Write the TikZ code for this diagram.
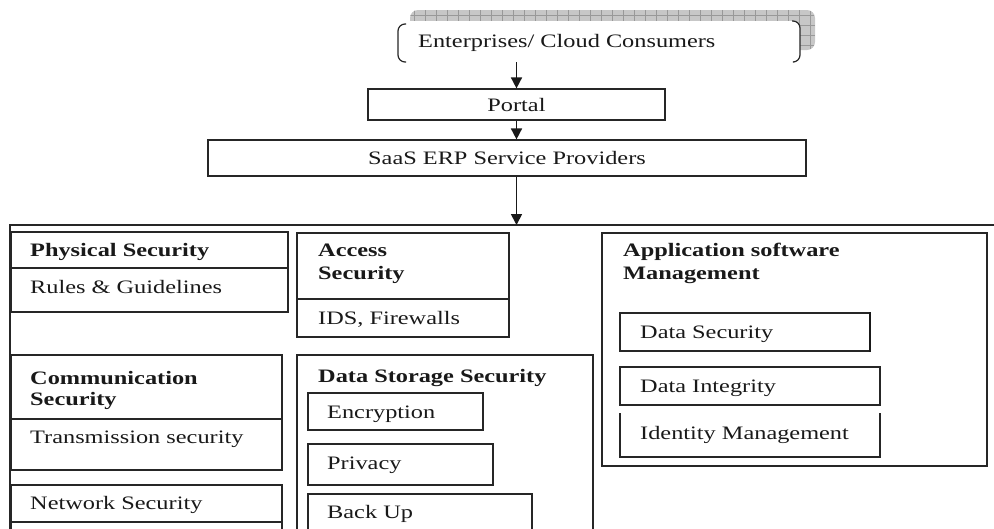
\documentclass[tikz,border=0pt]{standalone}
\usepackage{fontspec}
\setmainfont{Liberation Serif}[FakeStretch=1.28]
\usetikzlibrary{arrows.meta}
\tikzset{
  ln/.style={line width=1.2pt, draw=black!85},
  txt/.style={inner sep=0pt, anchor=base west, text=black!90, font=\fontsize{19}{23}\selectfont},
  btxt/.style={txt, font=\fontsize{19}{23}\selectfont\bfseries},
  ctr/.style={inner sep=0pt, text=black!90, font=\fontsize{19}{23}\selectfont},
  arr/.style={line width=1.7pt, draw=black!90, -{Triangle[length=11pt,width=11pt]}},
}
\begin{document}
\begin{tikzpicture}[x=1pt,y=-1pt]
\useasboundingbox (0,0) rectangle (994,528);
\clip (0,0) rectangle (994,528);

% top shadow with grid
\fill[black!22, rounded corners=8pt] (410,10) rectangle (815,50);
\begin{scope}
  \clip[rounded corners=8pt] (410,10) rectangle (815,50);
  \foreach \gx in {414,425,...,815} \draw[black!40, line width=0.6pt] (\gx,10) -- (\gx,50);
  \foreach \gy in {15,25,...,50} \draw[black!40, line width=0.6pt] (410,\gy) -- (815,\gy);
\end{scope}
% front box
\fill[white, rounded corners=8pt] (398,21) rectangle (800,62);
\draw[ln, rounded corners=7pt] (406,24) -- (398,24) -- (398,62) -- (406,62);
\draw[ln, rounded corners=7pt] (792,21) -- (800,21) -- (800,62) -- (794,62);
\node[inner sep=0pt, minimum width=402pt, minimum height=41pt] (consumers) at (599,41.5) {};
\node[txt] (constext) at (418,47.5) {Enterprises/ Cloud Consumers};

% portal and SaaS
\node[ln, draw, ctr, minimum width=297pt, minimum height=31pt] (portal) at (516.5,104.5) {Portal};
\node[ln, draw, ctr, minimum width=598pt, minimum height=36pt] (saas) at (507,158) {SaaS ERP Service Providers};

% frame
\coordinate (frametop) at (516.5,225);
\draw[ln] (994,225) -- (10,225) -- (10,540);

\draw[arr] (portal.north |- consumers.south) -- (portal.north);
\draw[arr] (portal.south) -- (portal.south |- saas.north);
\draw[arr] (portal.south |- saas.south) -- (frametop);

% Physical security
\draw[ln] (11,232) rectangle (288,312);
\draw[ln] (11,268) -- (288,268);
\node[btxt] (phys) at (30,256) {Physical Security};
\node[txt] (rules) at (30,293) {Rules \& Guidelines};

% Access security
\draw[ln] (297,233) rectangle (509,337);
\draw[ln] (297,299) -- (509,299);
\node[btxt] (acc1) at (318,256) {Access};
\node[btxt] (acc2) at (318,279) {Security};
\node[txt] (ids) at (318,324) {IDS, Firewalls};

% Application software management
\draw[ln] (602,233) rectangle (987,466);
\node[btxt] (app1) at (623,256) {Application software};
\node[btxt] (app2) at (623,279) {Management};
\draw[ln] (620,313) rectangle (870,351);
\draw[line width=2.2pt, black!90] (870,312) -- (870,352);
\node[txt] (dsec) at (640,338) {Data Security};
\draw[ln] (620,367) rectangle (880,405);
\node[txt] (dint) at (640,392) {Data Integrity};
\draw[ln] (620,413) -- (620,457) -- (880,457) -- (880,413);
\node[txt] (idm) at (640,439) {Identity Management};

% Communication security
\draw[ln] (11,355) rectangle (282,470);
\draw[ln] (11,419) -- (282,419);
\node[btxt] (com1) at (30,384) {Communication};
\node[btxt] (com2) at (30,405) {Security};
\node[txt] (trans) at (30,443) {Transmission security};
\draw[ln] (11,485) rectangle (282,540);
\draw[ln] (11,522) -- (282,522);
\node[txt] (net) at (30,509) {Network Security};

% Data storage security
\draw[ln] (297,355) rectangle (593,540);
\node[btxt] (dss) at (318,382) {Data Storage Security};
\draw[ln] (308,393) rectangle (483,430);
\node[txt] (enc) at (327,418) {Encryption};
\draw[ln] (308,444) rectangle (493,485);
\node[txt] (priv) at (327,469) {Privacy};
\draw[ln] (308,494) rectangle (532,540);
\node[txt] (back) at (327,518) {Back Up};
\end{tikzpicture}
\end{document}
